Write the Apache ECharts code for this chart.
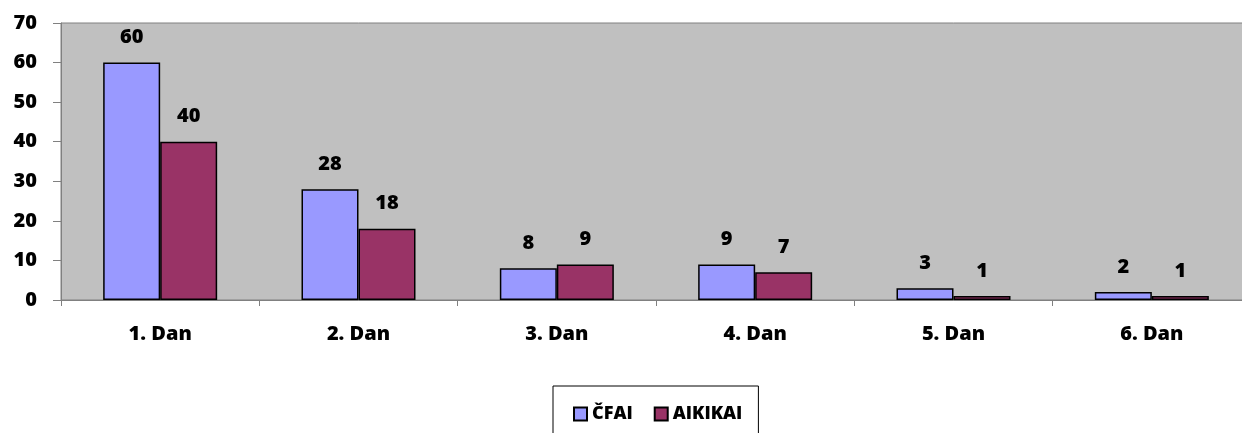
<!DOCTYPE html>
<html><head><meta charset="utf-8">
<script src="https://cdn.jsdelivr.net/npm/echarts@6/dist/echarts.min.js"></script>
<style>html,body{margin:0;padding:0;background:#fff;overflow:hidden}#c{width:1251px;height:433px}</style>
</head><body><div id="c"></div>
<script>
const categories = ['1. Dan','2. Dan','3. Dan','4. Dan','5. Dan','6. Dan'];
const cfai = [60, 28, 8, 9, 3, 2];
const aikikai = [40, 18, 9, 7, 1, 1];
const yTicks = [0, 10, 20, 30, 40, 50, 60, 70];

const FONT = '"Open Sans", Lato, sans-serif';
const W = 800;
const chart = echarts.init(document.getElementById('c'));
const lbl = {show:true, position:'top', distance:15, color:'#000', fontFamily:FONT, fontWeight:W, fontSize:20};
chart.setOption({
  animation:false,
  textStyle:{fontFamily:FONT},
  grid:{left:61, right:0, top:23, bottom:133, show:true, backgroundColor:'#C0C0C0', borderColor:'#808080', borderWidth:1},
  legend:{
    top:386, left:553, width:207,
    padding:[19,16,40,20],
    borderColor:'#000', borderWidth:1,
    itemWidth:13, itemHeight:13, itemGap:21,
    icon:'rect',
    textStyle:{color:'#000', fontFamily:FONT, fontWeight:W, fontSize:18},
    data:['ČFAI','AIKIKAI']
  },
  xAxis:{
    type:'category', data:categories,
    axisLine:{lineStyle:{color:'#808080'}},
    axisTick:{show:true, length:6, lineStyle:{color:'#808080'}},
    axisLabel:{color:'#000', fontFamily:FONT, fontWeight:W, fontSize:20, margin:24}
  },
  yAxis:{
    type:'value', min:yTicks[0], max:yTicks[yTicks.length-1], interval:10,
    axisLine:{show:true, lineStyle:{color:'#808080'}},
    axisTick:{show:true, length:8, lineStyle:{color:'#808080'}},
    splitLine:{show:false},
    axisLabel:{color:'#000', fontFamily:FONT, fontWeight:W, fontSize:20, margin:24}
  },
  series:[
    {name:'ČFAI', type:'bar', data:cfai, barWidth:57, barGap:'0%',
     itemStyle:{color:'#9999FF', borderColor:'#000', borderWidth:1.5}, label:lbl},
    {name:'AIKIKAI', type:'bar', data:aikikai, barWidth:57,
     itemStyle:{color:'#993366', borderColor:'#000', borderWidth:1.5}, label:lbl}
  ]
});
</script></body></html>
